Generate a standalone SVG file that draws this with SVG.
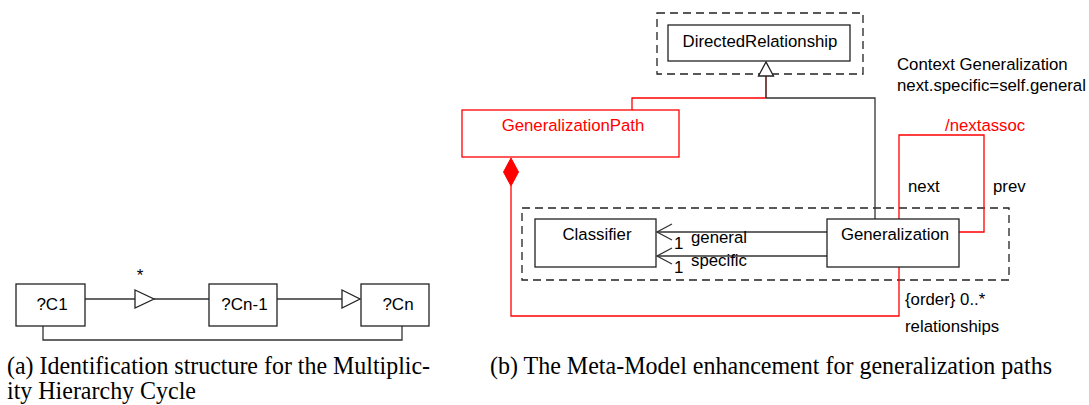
<svg xmlns="http://www.w3.org/2000/svg" width="1089" height="405" viewBox="0 0 1089 405">
<style>
.box{fill:#fff;stroke:#222;stroke-width:1.3}
.rbox{fill:#fff;stroke:#f00;stroke-width:1.3}
.dash{fill:none;stroke:#222;stroke-width:1.3;stroke-dasharray:8 5}
.ln{fill:none;stroke:#333;stroke-width:1.3}
.rl{fill:none;stroke:#f00;stroke-width:1.3}
.t{font-family:"Liberation Sans",Arial,sans-serif;font-size:16.8px;fill:#000}
.tl{font-family:"Liberation Sans",Arial,sans-serif;font-size:17px;fill:#000}
.rt{fill:#f00}
.cap{font-family:"Liberation Serif","Times New Roman",serif;font-size:25px;fill:#000}
.m{text-anchor:middle}
</style>

<!-- Left diagram -->
<g id="connectors-a">
  <polyline class="ln" points="85,299 135,299"/>
  <polyline class="ln" points="154,299 209,299"/>
  <polyline class="ln" points="277,299 342,299"/>
  <polygon points="135,290 154,299 135,308" fill="#fff" stroke="#222" stroke-width="1.3"/>
  <polygon points="342,290 360,299 342,308" fill="#fff" stroke="#222" stroke-width="1.3"/>
  <polyline class="ln" points="43,326 43,340 402,340 402,326"/>
  <text class="tl m" x="140" y="281">*</text>
</g>
<g id="node-c1">
  <rect class="box" x="16" y="284" width="69" height="42"/>
  <text class="tl m" x="52" y="310">?C1</text>
</g>
<g id="node-cn1">
  <rect class="box" x="209" y="284" width="68" height="42"/>
  <text class="tl m" x="244.5" y="310">?Cn-1</text>
</g>
<g id="node-cn">
  <rect class="box" x="361" y="284" width="68" height="42"/>
  <text class="tl m" x="398" y="310">?Cn</text>
</g>

<!-- Right diagram: packages -->
<g id="pkg-top">
  <rect class="dash" x="657" y="13" width="206" height="61"/>
</g>
<g id="pkg-bottom">
  <rect class="dash" x="522" y="208" width="487" height="72"/>
</g>

<g id="connectors-b">
  <polyline class="ln" points="766,98 875,98 875,219"/>
  <polyline class="rl" points="632,110 632,98 766,98"/>
  <line x1="766" y1="76" x2="766" y2="98" stroke="#5a1c1c" stroke-width="1.6"/>
  <polygon points="766,62 758.5,76 773.5,76" fill="#fff" stroke="#222" stroke-width="1.3"/>
  <polyline class="rl" points="511,186 511,316 899,316 899,267"/>
  <polygon points="511,158 518.5,172 511,186 503.5,172" fill="#f00" stroke="#f00" stroke-width="1"/>
  <polyline class="rl" points="899,219 899,135 984,135 984,232 959,232"/>
  <line class="ln" x1="657" y1="232" x2="827" y2="232"/>
  <line class="ln" x1="657" y1="256" x2="827" y2="256"/>
  <polyline class="ln" points="672,224 657,232 672,240"/>
  <polyline class="ln" points="672,248 657,256 672,264"/>
  <text class="t" x="674" y="249">1</text>
  <text class="t" x="691" y="243">general</text>
  <text class="t" x="674" y="273">1</text>
  <text class="t" x="691" y="266">specific</text>
  <text class="t rt" x="945" y="131">/nextassoc</text>
  <text class="t" x="908" y="192">next</text>
  <text class="t" x="993" y="192">prev</text>
  <text class="t" x="905" y="305">{order} 0..*</text>
  <text class="t" x="905" y="332">relationships</text>
  <text class="t" x="897" y="70">Context Generalization</text>
  <text class="t" x="897" y="91">next.specific=self.general</text>
</g>

<g id="node-directedrelationship">
  <rect class="box" x="668" y="25" width="182" height="36"/>
  <text class="t m" x="760" y="47">DirectedRelationship</text>
</g>
<g id="node-generalizationpath">
  <rect class="rbox" x="462" y="110" width="217" height="47"/>
  <text class="t m rt" x="573" y="131">GeneralizationPath</text>
</g>
<g id="node-classifier">
  <rect class="box" x="535" y="219" width="121" height="48"/>
  <text class="t m" x="597" y="240">Classifier</text>
</g>
<g id="node-generalization">
  <rect class="box" x="827" y="219" width="132" height="48"/>
  <text class="t m" x="895" y="240">Generalization</text>
</g>

<!-- Captions -->
<g id="captions">
  <text class="cap" x="7" y="374" textLength="423" lengthAdjust="spacingAndGlyphs">(a) Identification structure for the Multiplic-</text>
  <text class="cap" x="7" y="399" textLength="189" lengthAdjust="spacingAndGlyphs">ity Hierarchy Cycle</text>
  <text class="cap" x="490" y="374" textLength="562" lengthAdjust="spacingAndGlyphs">(b) The Meta-Model enhancement for generalization paths</text>
</g>
</svg>
